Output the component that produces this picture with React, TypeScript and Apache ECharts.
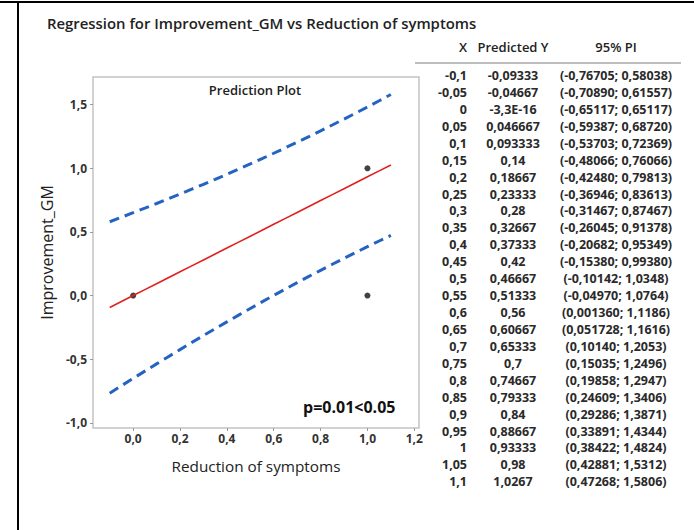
import React, { useEffect, useRef } from "react";
import * as echarts from "echarts";

const xValues = ["-0,1", "-0,05", "0", "0,05", "0,1", "0,15", "0,2", "0,25", "0,3", "0,35", "0,4", "0,45", "0,5", "0,55", "0,6", "0,65", "0,7", "0,75", "0,8", "0,85", "0,9", "0,95", "1", "1,05", "1,1"];
const predictedY = ["-0,09333", "-0,04667", "-3,3E-16", "0,046667", "0,093333", "0,14", "0,18667", "0,23333", "0,28", "0,32667", "0,37333", "0,42", "0,46667", "0,51333", "0,56", "0,60667", "0,65333", "0,7", "0,74667", "0,79333", "0,84", "0,88667", "0,93333", "0,98", "1,0267"];
const piLower = ["-0,76705", "-0,70890", "-0,65117", "-0,59387", "-0,53703", "-0,48066", "-0,42480", "-0,36946", "-0,31467", "-0,26045", "-0,20682", "-0,15380", "-0,10142", "-0,04970", "0,001360", "0,051728", "0,10140", "0,15035", "0,19858", "0,24609", "0,29286", "0,33891", "0,38422", "0,42881", "0,47268"];
const piUpper = ["0,58038", "0,61557", "0,65117", "0,68720", "0,72369", "0,76066", "0,79813", "0,83613", "0,87467", "0,91378", "0,95349", "0,99380", "1,0348", "1,0764", "1,1186", "1,1616", "1,2053", "1,2496", "1,2947", "1,3406", "1,3871", "1,4344", "1,4824", "1,5312", "1,5806"];
const obsX = [0, 1, 1];
const obsY = [0, 1, 0];
const xTicks = [0, 0.2, 0.4, 0.6, 0.8, 1.0, 1.2];
const yTicks = [-1.0, -0.5, 0, 0.5, 1.0, 1.5];

const num = (s: string) => parseFloat(s.replace(",", "."));
const fmt = (v: number) => v.toFixed(1).replace(".", ",");

const FONT = "'Open Sans', 'Noto Sans', sans-serif";

export default function App() {
  const ref = useRef<HTMLDivElement>(null);
  useEffect(() => {
    if (!ref.current) return;
    const chart = echarts.init(ref.current, undefined, { renderer: "svg" });
    const xs = xValues.map(num);
    const fit = xs.map((x, i) => [x, num(predictedY[i])]);
    const lo = xs.map((x, i) => [x, num(piLower[i])]);
    const hi = xs.map((x, i) => [x, num(piUpper[i])]);
    const obs = obsX.map((x, i) => [x, obsY[i]]);

    const rowTop = 75.5;
    const rowH = 16.93;
    const tableTexts: any[] = [];
    xValues.forEach((xv, i) => {
      const y = rowTop + i * rowH;
      const st = { fontFamily: FONT, fontSize: 12.5, fontWeight: "bold", fill: "#2a2a2a", verticalAlign: "middle" };
      tableTexts.push({ type: "text", x: 467, y, style: { ...st, text: xv, align: "right" } });
      tableTexts.push({ type: "text", x: 513, y, style: { ...st, text: predictedY[i], align: "center" } });
      tableTexts.push({ type: "text", x: 616, y, style: { ...st, text: `(${piLower[i]}; ${piUpper[i]})`, align: "center" } });
    });

    const hdr = { fontFamily: FONT, fontSize: 13, fontWeight: 600, fill: "#222", verticalAlign: "middle" };

    chart.setOption({
      animation: false,
      backgroundColor: "#fff",
      title: {
        text: "Regression for Improvement_GM vs Reduction of symptoms",
        left: 42,
        top: 10,
        textStyle: { fontFamily: FONT, fontSize: 14.9, fontWeight: 600, color: "#222" },
      },
      grid: {
        left: 93,
        top: 77,
        width: 326,
        height: 351,
        show: true,
        borderColor: "#c4c4c4",
        borderWidth: 1.5,
        backgroundColor: "#fff",
      },
      xAxis: {
        type: "value",
        min: -0.1714,
        max: 1.22,
        name: "Reduction of symptoms",
        nameLocation: "middle",
        nameGap: 30,
        nameTextStyle: { fontFamily: FONT, fontSize: 15.3, color: "#222" },
        axisLine: { show: false, onZero: false },
        splitLine: { show: false },
        axisTick: { show: true, customValues: xTicks, length: 3, lineStyle: { color: "#999" } },
        axisLabel: {
          customValues: xTicks,
          formatter: (v: number) => fmt(v),
          margin: 4,
          fontFamily: FONT,
          fontSize: 12,
          fontWeight: "bold",
          color: "#333",
        },
      },
      yAxis: {
        type: "value",
        min: -1.041,
        max: 1.718,
        name: "Improvement_GM",
        nameLocation: "middle",
        nameGap: 38,
        nameTextStyle: { fontFamily: FONT, fontSize: 16, color: "#222" },
        axisLine: { show: false, onZero: false },
        splitLine: { show: false },
        axisTick: { show: true, customValues: yTicks, length: 3, lineStyle: { color: "#999" } },
        axisLabel: {
          customValues: yTicks,
          formatter: (v: number) => fmt(v),
          margin: 6,
          fontFamily: FONT,
          fontSize: 12,
          fontWeight: "bold",
          color: "#333",
        },
      },
      series: [
        {
          type: "line",
          data: hi,
          showSymbol: false,
          lineStyle: { color: "#2563c2", width: 3, type: [10, 6] },
        },
        {
          type: "line",
          data: lo,
          showSymbol: false,
          lineStyle: { color: "#2563c2", width: 3, type: [10, 6] },
        },
        {
          type: "line",
          data: fit,
          showSymbol: false,
          lineStyle: { color: "#e0201f", width: 1.6 },
        },
        {
          type: "scatter",
          data: obs,
          symbolSize: 6,
          itemStyle: { color: "#111" },
        },
      ],
      graphic: [
        { type: "rect", shape: { x: 0, y: 1, width: 694, height: 2 }, style: { fill: "#000" } },
        { type: "rect", shape: { x: 17, y: 1, width: 2, height: 529 }, style: { fill: "#000" } },
        {
          type: "text",
          x: 255,
          y: 90,
          style: { text: "Prediction Plot", fontFamily: FONT, fontSize: 13, fontWeight: 600, fill: "#222", align: "center", verticalAlign: "middle" },
        },
        {
          type: "text",
          x: 303,
          y: 407,
          style: { text: "p=0.01<0.05", fontFamily: FONT, fontSize: 16, fontWeight: "bold", fill: "#111", align: "left", verticalAlign: "middle" },
        },
        { type: "text", x: 467, y: 47, style: { ...hdr, text: "X", align: "right" } },
        { type: "text", x: 513, y: 47, style: { ...hdr, text: "Predicted Y", align: "center" } },
        { type: "text", x: 616, y: 47, style: { ...hdr, text: "95% PI", align: "center" } },
        { type: "rect", shape: { x: 415, y: 62, width: 266, height: 2 }, style: { fill: "#bdbdbd" } },
        ...tableTexts,
      ],
    });
    return () => chart.dispose();
  }, []);
  return (
    <div style={{ position: "absolute", left: 0, top: 0 }}>
      <div ref={ref} style={{ width: 694, height: 530 }} />
    </div>
  );
}
